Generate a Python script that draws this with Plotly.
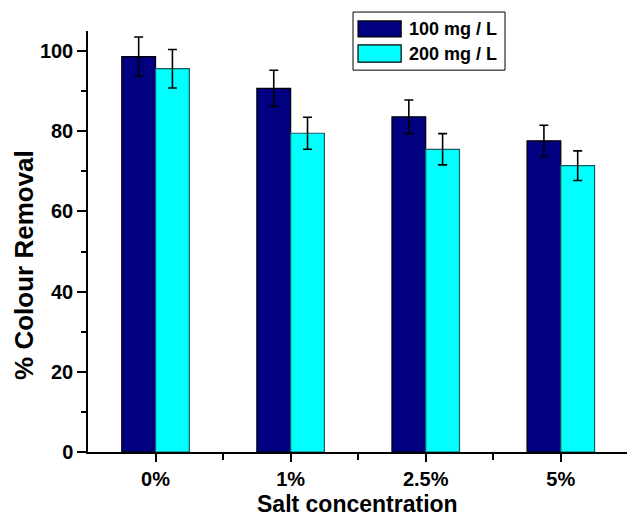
import plotly.graph_objects as go

# Colour removal (%) at each salt concentration for two dye doses
categories = ["0%", "1%", "2.5%", "5%"]
removal_100 = [98.6, 90.7, 83.6, 77.6]
removal_200 = [95.6, 79.5, 75.5, 71.4]
err_100 = [4.9, 4.5, 4.2, 3.9]
err_200 = [4.8, 4.0, 3.9, 3.7]
series_names = ["100 mg / L", "200 mg / L"]
y_ticks = [0, 20, 40, 60, 80, 100]

NAVY = "#000080"
CYAN = "#00FFFF"
FONT = "Liberation Sans, Arial, sans-serif"

x_pos = list(range(len(categories)))

fig = go.Figure()
fig.add_trace(go.Bar(
    x=x_pos, y=removal_100, name=series_names[0],
    marker=dict(color=NAVY, line=dict(color="#000000", width=1.2)),
    error_y=dict(type="data", array=err_100, color="#000000", thickness=1.6, width=4.5),
    showlegend=False,
))
fig.add_trace(go.Bar(
    x=x_pos, y=removal_200, name=series_names[1],
    marker=dict(color=CYAN, line=dict(color="#1a5c5c", width=1.2)),
    error_y=dict(type="data", array=err_200, color="#000000", thickness=1.6, width=4.5),
    showlegend=False,
))

# Hand-drawn legend box with wide colour swatches
shapes = [
    dict(type="rect", xref="paper", yref="paper", x0=0.4917, x1=0.7737, y0=0.907, y1=1.045,
         line=dict(color="#000000", width=1), fillcolor="white", layer="above"),
    dict(type="rect", xref="paper", yref="paper", x0=0.501, x1=0.581, y0=0.986, y1=1.024,
         line=dict(color="#000000", width=1.2), fillcolor=NAVY, layer="above"),
    dict(type="rect", xref="paper", yref="paper", x0=0.501, x1=0.581, y0=0.926, y1=0.967,
         line=dict(color="#000000", width=1.2), fillcolor=CYAN, layer="above"),
]
annotations = [
    dict(xref="paper", yref="paper", x=0.592, y=1.005, text=f"<b>{series_names[0]}</b>",
         showarrow=False, xanchor="left", yanchor="middle",
         font=dict(family=FONT, size=18, color="#000000")),
    dict(xref="paper", yref="paper", x=0.592, y=0.946, text=f"<b>{series_names[1]}</b>",
         showarrow=False, xanchor="left", yanchor="middle",
         font=dict(family=FONT, size=18, color="#000000")),
    # axis titles
    dict(xref="paper", yref="paper", x=0.5, y=-0.1235, text="<b>Salt concentration</b>",
         showarrow=False, xanchor="center", yanchor="middle",
         font=dict(family=FONT, size=23, color="#000000")),
    dict(xref="paper", yref="paper", x=-0.119, y=0.444, text="<b>% Colour Removal</b>",
         showarrow=False, xanchor="center", yanchor="middle", textangle=-90,
         font=dict(family=FONT, size=26, color="#000000")),
]

fig.update_layout(
    width=627, height=517,
    margin=dict(l=88, r=0, t=31, b=65),
    paper_bgcolor="white", plot_bgcolor="white",
    barmode="group", bargap=0.5, bargroupgap=0,
    font=dict(family=FONT, color="#000000"),
    shapes=shapes, annotations=annotations,
    xaxis=dict(
        range=[-0.5, 3.49], automargin=False,
        tickmode="array", tickvals=x_pos, ticktext=[f"<b>{c}</b>" for c in categories],
        ticks="outside", ticklen=8, tickwidth=1.5, tickcolor="#000000",
        minor=dict(tickvals=[0.5, 1.5, 2.5], ticks="outside", ticklen=6,
                   tickwidth=1.5, tickcolor="#000000"),
        showline=True, linecolor="#000000", linewidth=1.5,
        showgrid=False, zeroline=False,
        tickfont=dict(family=FONT, size=20, color="#000000"),
    ),
    yaxis=dict(
        range=[0, 105], automargin=False,
        tickmode="array", tickvals=y_ticks,
        ticktext=[f"<b>{v}</b>" for v in y_ticks],
        ticks="outside", ticklen=9, tickwidth=1.5, tickcolor="#000000",
        minor=dict(tickvals=[10, 30, 50, 70, 90], ticks="outside", ticklen=5,
                   tickwidth=1.5, tickcolor="#000000"),
        showline=True, linecolor="#000000", linewidth=1.5,
        showgrid=False, zeroline=False,
        tickfont=dict(family=FONT, size=20, color="#000000"),
    ),
)

fig.write_html("out.html")
